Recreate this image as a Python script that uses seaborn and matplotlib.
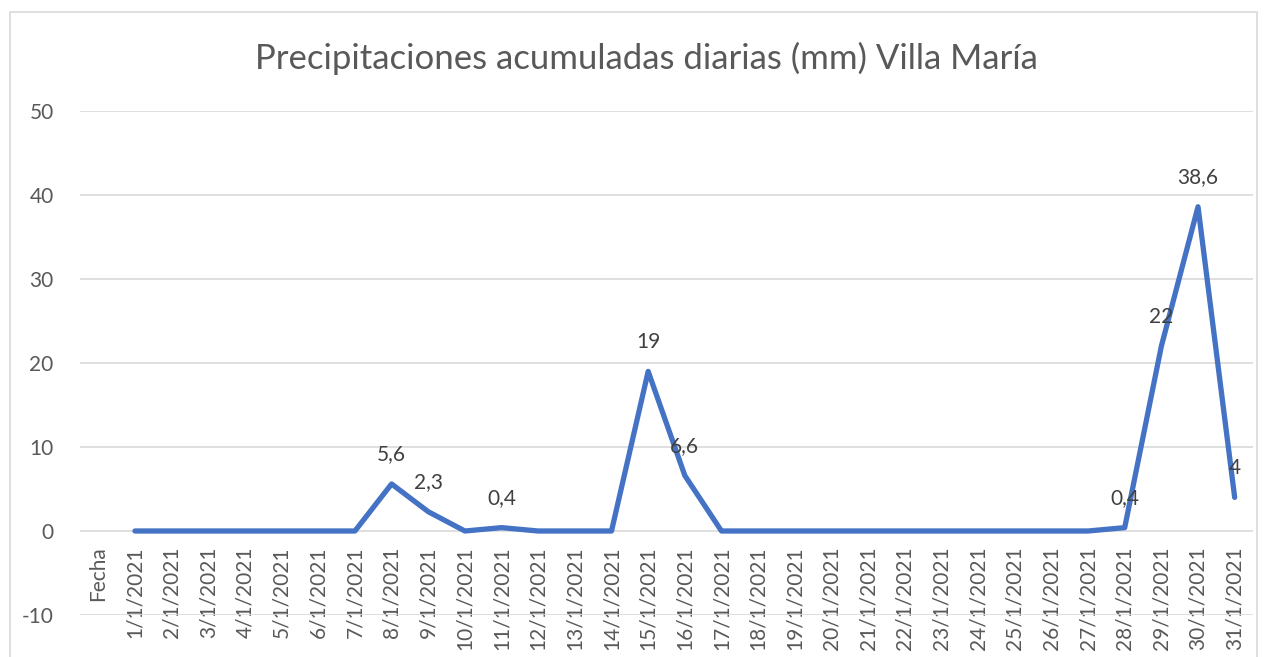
import numpy as np
import pandas as pd
import matplotlib
matplotlib.use('Agg')
import matplotlib.pyplot as plt
import seaborn as sns
from matplotlib.patches import Rectangle

# Data (daily accumulated rainfall, January 2021)
categories = ['Fecha'] + [f'{d}/1/2021' for d in range(1, 32)]
rain_mm = [0, 0, 0, 0, 0, 0, 0, 5.6, 2.3, 0, 0.4, 0, 0, 0, 19, 6.6,
           0, 0, 0, 0, 0, 0, 0, 0, 0, 0, 0, 0.4, 22, 38.6, 4]
y_ticks = [-10, 0, 10, 20, 30, 40, 50]

df = pd.DataFrame({'pos': np.arange(1, len(rain_mm) + 1), 'mm': rain_mm})

sns.set_style('white')
plt.rcParams['font.family'] = ['Lato', 'DejaVu Sans']
gray = '#595959'

fig = plt.figure(figsize=(12.67, 6.57), dpi=100)
ax = fig.add_axes([80 / 1267, 1 - 615 / 657, (1253 - 80) / 1267, (615 - 111) / 657])

sns.lineplot(data=df, x='pos', y='mm', ax=ax, color='#4472C4', linewidth=3.8,
             solid_capstyle='round', solid_joinstyle='round', zorder=3)

# data labels for non-zero days
for x, v in zip(df['pos'], df['mm']):
    if v != 0:
        txt = f'{v:g}'.replace('.', ',')
        ax.annotate(txt, (x, v), xytext=(0, 14), textcoords='offset points',
                    ha='center', va='bottom', fontsize=15, color='#404040', zorder=4)

# x axis sits on the zero line, like Excel
ax.spines['bottom'].set_position(('data', 0))
for s in ['top', 'right', 'left', 'bottom']:
    ax.spines[s].set_visible(False)

ax.set_xlim(-0.5, len(categories) - 0.5)
ax.set_ylim(-10, 50)
ax.set_yticks(y_ticks)
ax.set_yticklabels([str(t) for t in y_ticks], fontsize=15, color=gray)
ax.grid(axis='y', color='#D9D9D9', linewidth=1.2, zorder=0)
ax.set_axisbelow(True)

ax.set_xticks(np.arange(len(categories)))
ax.set_xticklabels(categories, fontsize=15, color=gray)
ax.tick_params(axis='x', labelrotation=90, pad=11)
ax.tick_params(axis='both', length=0)
ax.tick_params(axis='y', pad=19)
ax.set_xlabel('')
ax.set_ylabel('')

fig.text(646 / 1267, 1 - 58 / 657, 'Precipitaciones acumuladas diarias (mm) Villa María',
         ha='center', va='center', fontsize=25, color=gray)

fig.patches.append(Rectangle((10 / 1267, -0.05), (1257 - 10) / 1267, 1.05 - 12 / 657,
                             transform=fig.transFigure, fill=False,
                             edgecolor='#D9D9D9', linewidth=1.2))

fig.savefig('out.png', dpi=100)
